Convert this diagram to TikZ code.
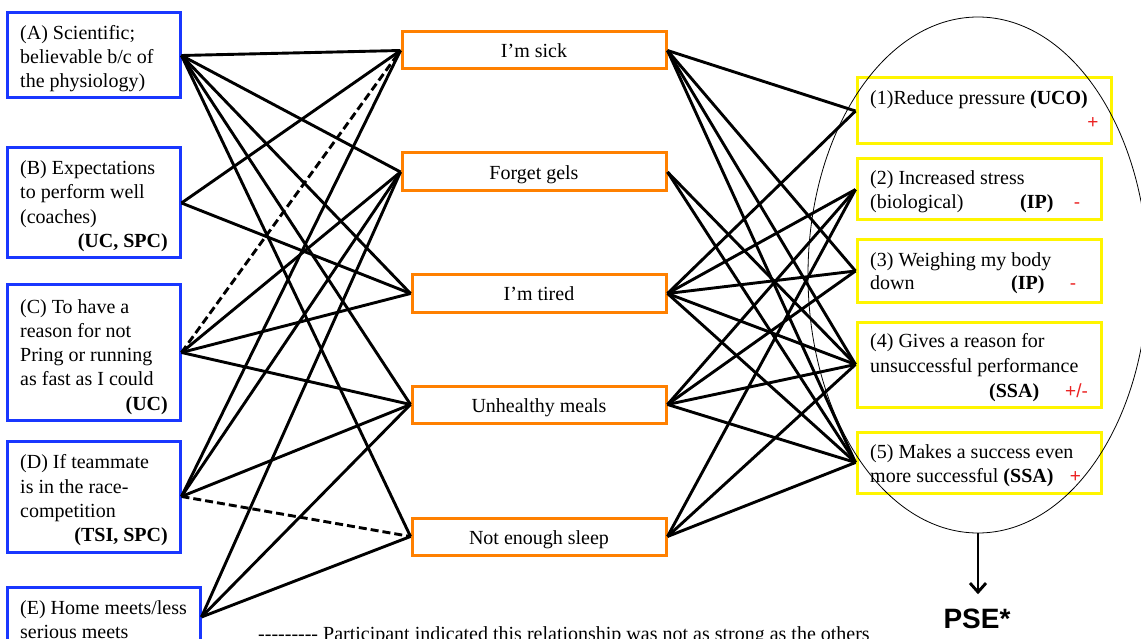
\documentclass[tikz,border=0pt]{standalone}
\usepackage{fontspec}
\setmainfont{Liberation Serif}
\newfontfamily\labelsans{Liberation Sans}
\usetikzlibrary{shapes.geometric,arrows.meta}
\definecolor{causeblue}{RGB}{25,55,255}
\definecolor{symorange}{RGB}{255,128,0}
\definecolor{effyellow}{RGB}{255,245,0}
\definecolor{signred}{RGB}{235,35,35}
\newcommand\dashbit{-\kern0pt}
\tikzset{
  causebox/.style={draw=causeblue, line width=3pt, rectangle, inner sep=0pt},
  symbox/.style={draw=symorange, line width=3pt, rectangle, inner sep=0pt,
    text height=15pt, text depth=0pt, font=\fontsize{20}{24}\selectfont},
  effbox/.style={draw=effyellow, line width=3pt, rectangle, inner sep=0pt},
  txt/.style={anchor=base west, inner sep=0pt, font=\fontsize{20}{24}\selectfont},
  txtr/.style={anchor=base east, inner sep=0pt, font=\fontsize{20}{24}\selectfont\bfseries},
  sign/.style={anchor=base, inner sep=0pt, text=signred, font=\labelsans\fontsize{19}{22}\selectfont},
  link/.style={line width=2.9pt, black},
  weak/.style={link, dash pattern=on 8pt off 4pt},
}
\begin{document}
\begin{tikzpicture}[x=1pt,y=-1pt]
\useasboundingbox (0,0) rectangle (1141,639);
\clip (0,0) rectangle (1141,639);

% causes (left column)
\node[causebox, minimum width=173pt, minimum height=85pt]  (A) at (93.5,55.5) {};
\node[causebox, minimum width=173pt, minimum height=110pt] (B) at (93.5,203) {};
\node[causebox, minimum width=173pt, minimum height=135pt] (C) at (93.5,352.5) {};
\node[causebox, minimum width=173pt, minimum height=111pt] (D) at (93.5,496.5) {};
\node[causebox, minimum width=193pt, minimum height=60pt]  (E) at (103.5,617) {};

\node[txt] (a1) at (20,40) {(A) Scientific;};
\node[txt] (a2) at (20,64) {believable b/c of};
\node[txt] (a3) at (20,88) {the physiology)};
\node[txt] (b1) at (20,175) {(B) Expectations};
\node[txt] (b2) at (20,199) {to perform well};
\node[txt] (b3) at (20,224) {(coaches)};
\node[txtr] (b4) at (168,248) {(UC, SPC)};
\node[txt] (c1) at (20,313) {(C) To have a};
\node[txt] (c2) at (20,337) {reason for not};
\node[txt] (c3) at (20,361) {Pring or running};
\node[txt] (c4) at (20,385) {as fast as I could};
\node[txtr] (c5) at (168,410) {(UC)};
\node[txt] (d1) at (20,468) {(D) If teammate};
\node[txt] (d2) at (20,493) {is in the race-};
\node[txt] (d3) at (20,517) {competition};
\node[txtr] (d4) at (168,541) {(TSI, SPC)};
\node[txt] (e1) at (20,614) {(E) Home meets/less};
\node[txt] (e2) at (20,638) {serious meets};

% symptoms (middle column)
\node[symbox, minimum width=264pt, minimum height=37pt] (sick)  at (534,50.5)  {I’m sick};
\node[symbox, minimum width=264pt, minimum height=38pt] (gels)  at (534,172)   {Forget gels};
\node[symbox, minimum width=254pt, minimum height=37pt] (tired) at (539,293.5) {I’m tired};
\node[symbox, minimum width=254pt, minimum height=37pt] (meals) at (539,404.5) {Unhealthy meals};
\node[symbox, minimum width=254pt, minimum height=37pt] (sleep) at (539,536.5) {Not enough sleep};

% effects (right column)
\node[effbox, minimum width=254pt, minimum height=66pt] (r1) at (984,111) {};
\node[effbox, minimum width=244pt, minimum height=61pt] (r2) at (979,189.5) {};
\node[effbox, minimum width=244pt, minimum height=62pt] (r3) at (979,271) {};
\node[effbox, minimum width=244pt, minimum height=85pt] (r4) at (979,364.5) {};
\node[effbox, minimum width=244pt, minimum height=61pt] (r5) at (979,462.5) {};

\node[txt] (t1a) at (870,105) {(1)Reduce pressure \textbf{(UCO)}};
\node[sign] (s1) at (1093,129) {+};
\node[txt] (t2a) at (870,185) {(2) Increased stress};
\node[txt] (t2b) at (870,209) {(biological)};
\node[txt] (t2c) at (1020,209) {\textbf{(IP)}};
\node[sign] (s2) at (1077,209) {-};
\node[txt] (t3a) at (870,267) {(3) Weighing my body};
\node[txt] (t3b) at (870,290) {down};
\node[txt] (t3c) at (1011,290) {\textbf{(IP)}};
\node[sign] (s3) at (1073,290) {-};
\node[txt] (t4a) at (870,347) {(4) Gives a reason for};
\node[txt] (t4b) at (870,372) {unsuccessful performance};
\node[txt] (t4c) at (989,397) {\textbf{(SSA)}};
\node[sign, anchor=base west] (s4) at (1065,397) {+/-};
\node[txt] (t5a) at (870,458) {(5) Makes a success even};
\node[txt] (t5b) at (870,482) {more successful \textbf{(SSA)}};
\node[sign] (s5) at (1075.5,482) {+};

% causes -> symptoms
\draw[link] (A.east) -- (sick.west);
\draw[link] (A.east) -- (gels.west);
\draw[link] (A.east) -- (tired.west);
\draw[link] (A.east) -- (meals.west);
\draw[link] (A.east) -- (sleep.west);
\draw[link] (B.east) -- (sick.west);
\draw[link] (B.east) -- (tired.west);
\draw[weak] (C.east) -- (sick.west);
\draw[link] (C.east) -- (gels.west);
\draw[link] (C.east) -- (tired.west);
\draw[link] (C.east) -- (meals.west);
\draw[link] (D.east) -- (sick.west);
\draw[link] (D.east) -- (gels.west);
\draw[link] (D.east) -- (meals.west);
\draw[weak] (D.east) -- (sleep.west);
\draw[link] (E.east) -- (gels.west);
\draw[link] (E.east) -- (meals.west);
\draw[link] (E.east) -- (sleep.west);

% symptoms -> effects
\draw[link] (sick.east) -- (r1.west);
\draw[link] (sick.east) -- (r3.west);
\draw[link] (sick.east) -- (r4.west);
\draw[link] (sick.east) -- (r5.west);
\draw[link] (gels.east) -- (r4.west);
\draw[link] (gels.east) -- (r5.west);
\draw[link] (tired.east) -- (r1.west);
\draw[link] (tired.east) -- (r2.west);
\draw[link] (tired.east) -- (r3.west);
\draw[link] (tired.east) -- (r4.west);
\draw[link] (tired.east) -- (r5.west);
\draw[link] (meals.east) -- (r2.west);
\draw[link] (meals.east) -- (r3.west);
\draw[link] (meals.east) -- (r4.west);
\draw[link] (meals.east) -- (r5.west);
\draw[link] (sleep.east) -- (r2.west);
\draw[link] (sleep.east) -- (r4.west);
\draw[link] (sleep.east) -- (r5.west);

% grouping ellipse and outcome
\node[draw, ellipse, line width=0.8pt, minimum width=340pt, minimum height=516pt, inner sep=0pt] (grp) at (978,275) {};
\node[anchor=base, inner sep=0pt, font=\labelsans\bfseries\fontsize{28}{30}\selectfont] (pse) at (977,628) {PSE*};
\draw[line width=2.9pt, -{Straight Barb[length=9pt,width=16pt]}, shorten >=14pt] (grp.south) -- (grp.south |- pse.north);

% legend
\node[txt] (note) at (258,640) {\dashbit\dashbit\dashbit\dashbit\dashbit\dashbit\dashbit\dashbit- Participant indicated this relationship was not as strong as the others};
\end{tikzpicture}
\end{document}
